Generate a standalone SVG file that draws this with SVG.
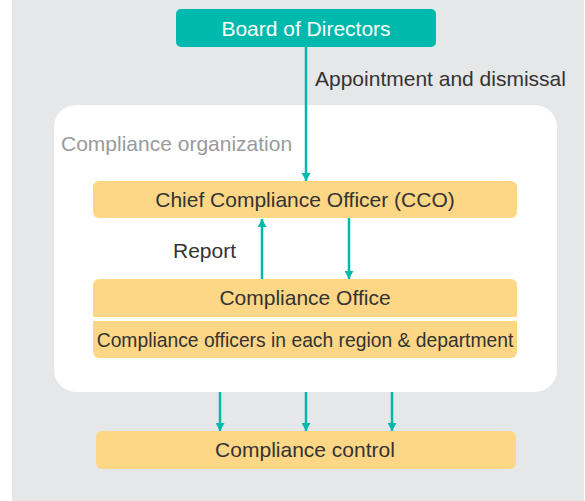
<svg xmlns="http://www.w3.org/2000/svg" width="585" height="501" viewBox="0 0 585 501">
<defs>
<style>
.t{font-family:"Liberation Sans",Arial,sans-serif;font-size:21px;fill:#333333;text-anchor:middle}
.l{font-family:"Liberation Sans",Arial,sans-serif;font-size:21px;fill:#333333}
.y{fill:#fdd686}
.c{stroke:#00b9ad;stroke-width:2.5;fill:none;marker-end:url(#a2)}
</style>
<marker id="a2" markerUnits="userSpaceOnUse" markerWidth="10" markerHeight="9" refX="9" refY="5" orient="auto" viewBox="0 0 9 10">
<path d="M0,0 L9,5 L0,10 Z" fill="#00b9ad"/>
</marker>
</defs>
<rect x="12" y="0" width="572" height="501" fill="#e6e7e9"/>
<g id="org">
<rect x="54" y="105" width="503" height="287" rx="22" fill="#ffffff"/>
<text class="l" x="61" y="151" style="fill:#9a9a9c">Compliance organization</text>
</g>
<g id="board">
<rect x="176" y="9" width="260" height="38" rx="5" fill="#00b9ad"/>
<text class="t" x="306" y="36" style="fill:#ffffff">Board of Directors</text>
</g>
<g id="cco">
<rect class="y" x="93" y="181" width="424" height="37" rx="6"/>
<text class="t" x="305" y="207">Chief Compliance Officer (CCO)</text>
</g>
<g id="office">
<path class="y" d="M99,279 H511 A6,6 0 0 1 517,285 V317 H93 V285 A6,6 0 0 1 99,279 Z"/>
<text class="t" x="305" y="305">Compliance Office</text>
</g>
<g id="officers">
<path class="y" d="M93,321 H517 V352 A6,6 0 0 1 511,358 H99 A6,6 0 0 1 93,352 Z"/>
<text class="t" x="305" y="347" style="font-size:19.3px">Compliance officers in each region &amp; department</text>
</g>
<g id="control">
<rect class="y" x="96" y="431" width="420" height="38" rx="6"/>
<text class="t" x="305" y="457">Compliance control</text>
</g>
<g id="connectors">
<line class="c" x1="306" y1="47" x2="306" y2="181"/>
<line class="c" x1="262" y1="279" x2="262" y2="219"/>
<line class="c" x1="349" y1="218" x2="349" y2="279"/>
<line class="c" x1="220" y1="392" x2="220" y2="431"/>
<line class="c" x1="306" y1="392" x2="306" y2="431"/>
<line class="c" x1="392" y1="392" x2="392" y2="431"/>
<text class="l" x="315" y="86">Appointment and dismissal</text>
<text class="l" x="173" y="258">Report</text>
</g>
</svg>
